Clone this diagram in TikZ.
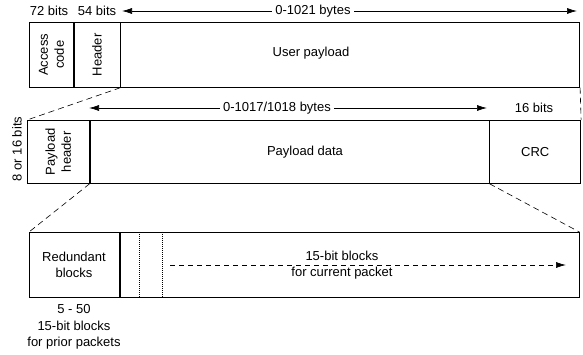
\documentclass[tikz,border=0pt]{standalone}
\usepackage{fontspec}
\setmainfont{Liberation Sans}
\usetikzlibrary{arrows.meta}

\begin{document}
\begin{tikzpicture}[x=1pt, y=-1pt,
    font=\fontsize{13}{16}\selectfont,
    cell/.style={draw, line width=0.7pt, anchor=north west, inner sep=0pt},
    vlabel/.style={rotate=90, align=center},
    dimarrow/.style={line width=0.7pt, -{Latex[length=10pt,width=6pt]}},
    zoomline/.style={line width=0.6pt, dash pattern=on 6pt off 4pt}]
    \useasboundingbox (0,0) rectangle (583,355);

    % Top row: access code, header, user payload
    \node[cell, minimum width=44pt, minimum height=65pt] (access) at (29,22) {};
    \node[cell, minimum width=46pt, minimum height=65pt] (header) at (access.north east) {};
    \node[cell, minimum width=459pt, minimum height=65pt] (user) at (header.north east) {};
    \node[vlabel] (accesslbl) at (access.center) {Access\\code};
    \node[vlabel] (headerlbl) at (header.center) {Header};
    \node (userlbl) at (311,53) {User payload};

    % Field lengths above the top row
    \node (accesslen) at (49,11) {72 bits};
    \node (headerlen) at (97,11) {54 bits};
    \node (userlen) at (313,11) {0-1021 bytes};
    \coordinate (userl) at (122,11);
    \coordinate (userr) at (577,11);
    \draw[dimarrow] (userlen) -- (userl);
    \draw[dimarrow] (userlen) -- (userr);

    % Middle row: payload header, payload data, CRC
    \node[cell, minimum width=62pt, minimum height=63pt] (phdr) at (27,120) {};
    \node[cell, minimum width=399pt, minimum height=63pt] (pdata) at (phdr.north east) {};
    \node[cell, minimum width=91pt, minimum height=63pt] (crc) at (pdata.north east) {};
    \node[vlabel] (phdrlbl) at (phdr.center) {Payload\\header};
    \node (pdatalbl) at (305,152) {Payload data};
    \node (crclbl) at (crc.center) {CRC};

    % Field lengths of the middle row
    \node[rotate=90] (phdrlen) at (17,149) {8 or 16 bits};
    \node (pdatalen) at (277,108) {0-1017/1018 bytes};
    \node (crclen) at (534,108) {16 bits};
    \coordinate (pdatal) at (89,108);
    \coordinate (pdatar) at (487,108);
    \draw[dimarrow] (pdatalen) -- (pdatal);
    \draw[dimarrow] (pdatalen) -- (pdatar);

    % Bottom row: redundant blocks, then blocks of the current packet
    \node[cell, minimum width=90pt, minimum height=65pt] (redund) at (29,232) {};
    \node[cell, minimum width=459pt, minimum height=65pt] (blocks) at (redund.north east) {};
    \draw[line width=0.6pt, dash pattern=on 1pt off 1pt]
        ([xshift=20pt]blocks.north west) -- ([xshift=20pt]blocks.south west)
        ([xshift=43pt]blocks.north west) -- ([xshift=43pt]blocks.south west);
    \node[align=center] (redundlbl) at (74,265) {Redundant\\blocks};
    \node[align=center, font=\fontsize{13}{16.5}\selectfont] (priorlbl) at (74,327)
        {5 - 50\\15-bit blocks\\for prior packets};

    \coordinate (curl) at (170,265);
    \coordinate (curr) at (566,265);
    \draw[dimarrow, dash pattern=on 5pt off 4pt] (curl) -- (curr);
    \node[align=center] (curlbl) at (342,265) {15-bit blocks\\for current packet};

    % Dashed lines opening up one row into the next
    \draw[zoomline] (header.south east) -- (phdr.north west);
    \draw[zoomline] (user.south east) -- (crc.north east);
    \draw[zoomline] (phdr.south east) -- (redund.north west);
    \draw[zoomline] (pdata.south east) -- (blocks.north east);
\end{tikzpicture}
\end{document}
